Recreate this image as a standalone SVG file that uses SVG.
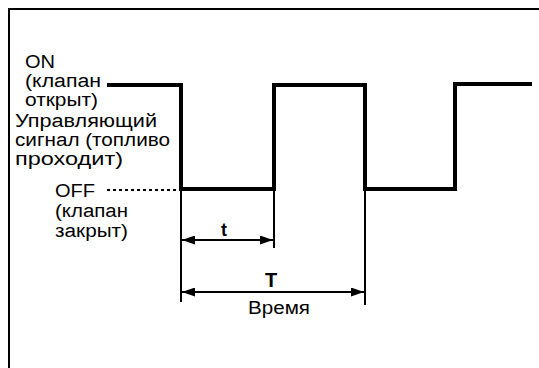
<svg xmlns="http://www.w3.org/2000/svg" width="539" height="368" viewBox="0 0 539 368">
<defs>
<style>
.lbl{font-family:"Liberation Sans",Arial,sans-serif;font-size:18px;fill:#000}
.bold{font-family:"Liberation Sans",Arial,sans-serif;font-weight:bold;fill:#000}
.thin{stroke:#000;stroke-width:2;fill:none}
</style>
<marker id="ah" viewBox="0 0 13 9" refX="13" refY="4.5" markerWidth="13" markerHeight="9" markerUnits="userSpaceOnUse" orient="auto-start-reverse">
<path d="M0,0 L13,4.5 L0,9 Z" fill="#000"/>
</marker>
</defs>
<rect width="539" height="368" fill="#fff"/>
<g id="frame">
<path class="thin" d="M9,368 V9 H539"/>
</g>
<g id="labels-on">
<text class="lbl" x="25" y="68" textLength="30" lengthAdjust="spacingAndGlyphs">ON</text>
<text class="lbl" x="25" y="87" textLength="76" lengthAdjust="spacingAndGlyphs">(клапан</text>
<text class="lbl" x="25" y="106" textLength="73" lengthAdjust="spacingAndGlyphs">открыт)</text>
<text class="lbl" x="15" y="127" textLength="142" lengthAdjust="spacingAndGlyphs">Управляющий</text>
<text class="lbl" x="15" y="146" textLength="155" lengthAdjust="spacingAndGlyphs">сигнал (топливо</text>
<text class="lbl" x="15" y="165" textLength="108" lengthAdjust="spacingAndGlyphs">проходит)</text>
</g>
<g id="labels-off">
<text class="lbl" x="55" y="197" textLength="40" lengthAdjust="spacingAndGlyphs">OFF</text>
<text class="lbl" x="55" y="217" textLength="73" lengthAdjust="spacingAndGlyphs">(клапан</text>
<text class="lbl" x="55" y="237" textLength="73" lengthAdjust="spacingAndGlyphs">закрыт)</text>
</g>
<g id="signal">
<path d="M107,85 H181 V189 H274 V85 H365 V189 H455 V84 H532" fill="none" stroke="#000" stroke-width="4" stroke-linejoin="miter"/>
</g>
<g id="connectors">
<path class="thin" d="M107,190 H180" stroke-dasharray="3,3"/>
<path class="thin" d="M181,189 V302"/>
<path class="thin" d="M274,189 V248"/>
<path class="thin" d="M365,189 V305"/>
<path class="thin" d="M182,240 H273" marker-start="url(#ah)" marker-end="url(#ah)"/>
<path class="thin" d="M182,292 H364" marker-start="url(#ah)" marker-end="url(#ah)"/>
</g>
<g id="dim-labels">
<text class="bold" x="224" y="236" font-size="18" text-anchor="middle">t</text>
<text class="bold" x="271" y="287" font-size="20" text-anchor="middle">T</text>
<text class="lbl" x="248" y="314" textLength="62" lengthAdjust="spacingAndGlyphs">Время</text>
</g>
</svg>
